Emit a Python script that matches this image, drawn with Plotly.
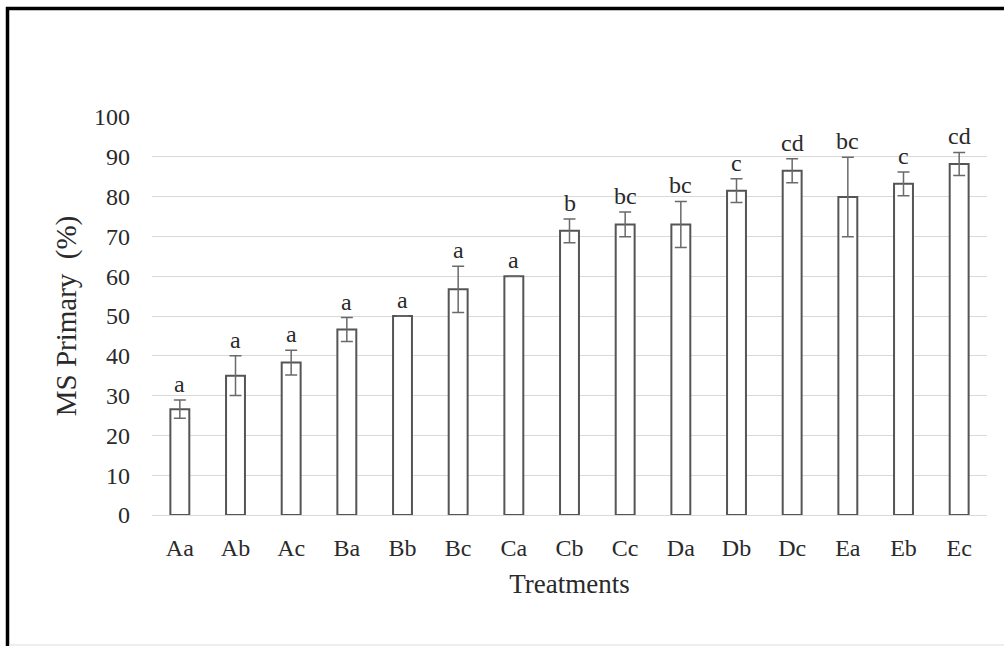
import plotly.graph_objects as go

treatments = ["Aa", "Ab", "Ac", "Ba", "Bb", "Bc", "Ca", "Cb", "Cc", "Da", "Db", "Dc", "Ea", "Eb", "Ec"]
ms_primary = [26.6, 35.0, 38.3, 46.6, 50.0, 56.7, 60.0, 71.4, 73.0, 73.0, 81.5, 86.5, 79.9, 83.2, 88.2]
std_error = [2.3, 5.0, 3.1, 3.0, 0.0, 5.8, 0.0, 3.0, 3.1, 5.8, 3.0, 3.0, 10.0, 3.0, 2.9]
sig_letters = ["a", "a", "a", "a", "a", "a", "a", "b", "bc", "bc", "c", "cd", "bc", "c", "cd"]
y_ticks = [0, 10, 20, 30, 40, 50, 60, 70, 80, 90, 100]

FONT = "Liberation Serif, Times New Roman, serif"
TXT = "#2a2a2a"
W, H = 1004, 646
ML, MR, MT, MB = 152, 17, 117, 131

fig = go.Figure()
fig.add_trace(go.Bar(
    x=treatments,
    y=ms_primary,
    marker=dict(color="white", line=dict(color="#555555", width=2)),
    error_y=dict(type="data", array=std_error, visible=True,
                 color="#6a6a6a", thickness=1.5, width=6),
    showlegend=False,
))

annotations = []
for t, v, e, s in zip(treatments, ms_primary, std_error, sig_letters):
    annotations.append(dict(
        x=t, y=v + e, xref="x", yref="y", text=s, showarrow=False,
        yanchor="bottom", yshift=1,
        font=dict(family=FONT, size=24, color=TXT),
    ))

pw = W - ML - MR
ph = H - MT - MB
def px(xp):
    return (xp - ML) / pw
def py(yp):
    return (H - MB - yp) / ph

shapes = [
    dict(type="line", xref="paper", yref="paper", x0=px(6), x1=px(1010), y0=py(8.5), y1=py(8.5),
         line=dict(color="black", width=3.5)),
    dict(type="line", xref="paper", yref="paper", x0=px(7.5), x1=px(7.5), y0=py(7), y1=py(660),
         line=dict(color="black", width=3.5)),
    dict(type="line", xref="paper", yref="paper", x0=px(9), x1=px(1004), y0=py(645), y1=py(645),
         line=dict(color="#dddddd", width=1)),
]

fig.update_layout(
    width=W, height=H,
    margin=dict(l=ML, r=MR, t=MT, b=MB, pad=0),
    paper_bgcolor="white", plot_bgcolor="white",
    bargap=0.66,
    font=dict(family=FONT, color=TXT),
    annotations=annotations,
    shapes=shapes,
    xaxis=dict(
        title=dict(text="Treatments", font=dict(family=FONT, size=27, color=TXT), standoff=14),
        tickfont=dict(family=FONT, size=24, color=TXT),
        showline=False, showgrid=False, ticks="", ticklabelstandoff=16,
    ),
    yaxis=dict(
        title=dict(text="MS Primary\u00a0\u00a0(%)", font=dict(family=FONT, size=29, color=TXT), standoff=8),
        range=[0, 100], tickvals=y_ticks,
        tickfont=dict(family=FONT, size=24, color=TXT),
        showgrid=True, gridcolor="#d9d9d9", gridwidth=1,
        zeroline=True, zerolinecolor="#d9d9d9", zerolinewidth=1,
        showline=False, ticks="", ticklabelstandoff=21,
    ),
)

fig.write_html("out.html")
